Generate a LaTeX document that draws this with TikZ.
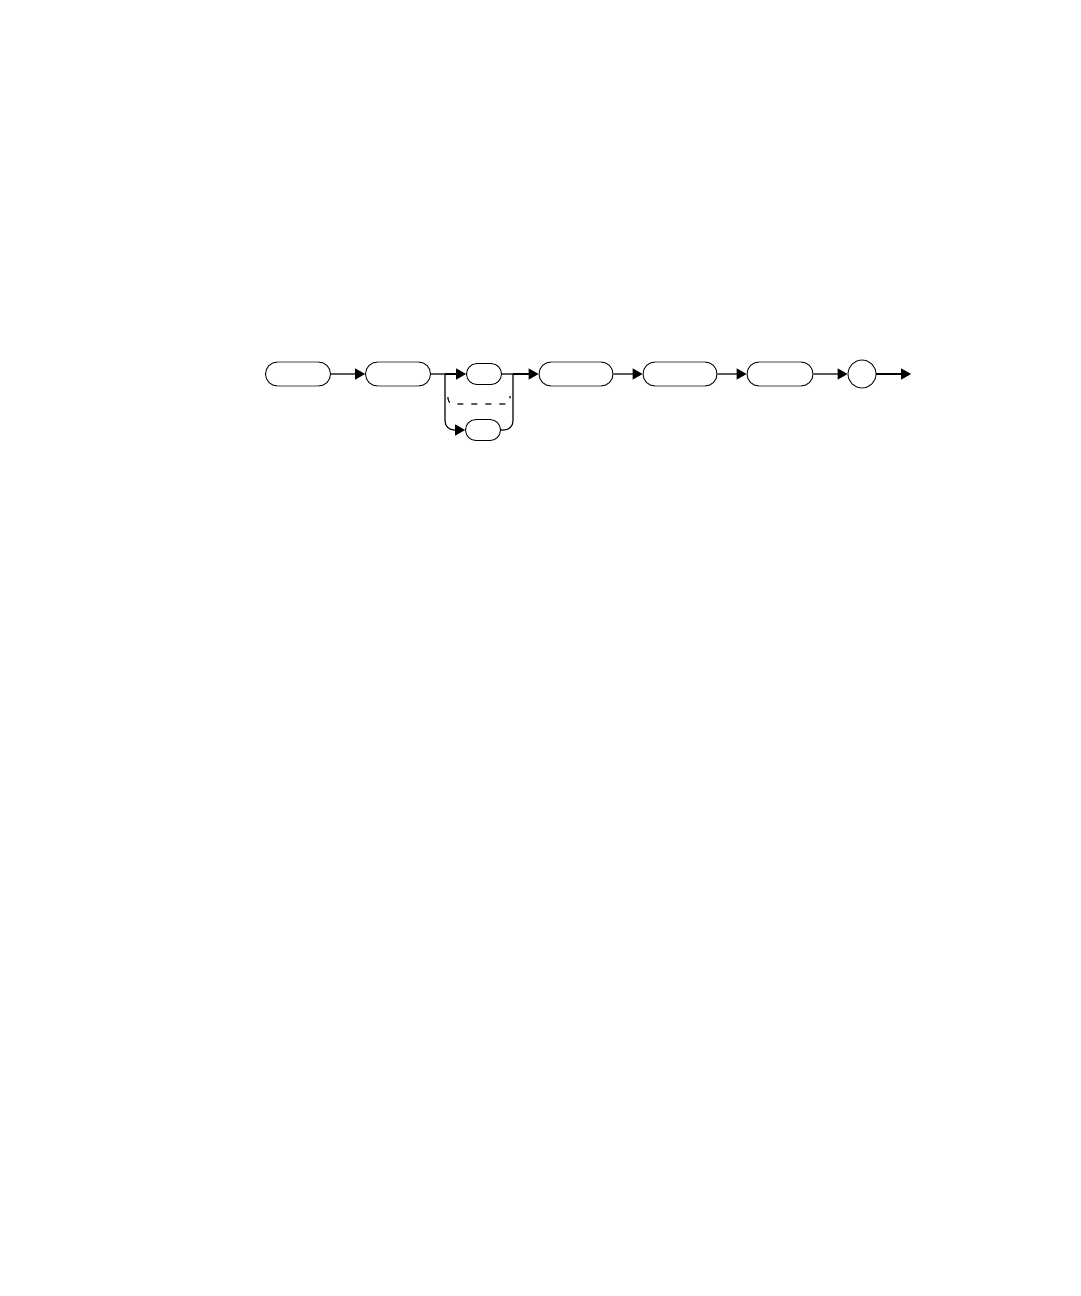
\documentclass[tikz,border=0pt]{standalone}
\usetikzlibrary{shapes.misc,arrows.meta}

\tikzset{
  railbox/.style={draw, rounded rectangle, line width=0.9, minimum height=24, inner sep=0},
  railcirc/.style={draw, circle, line width=0.9, minimum size=28, inner sep=0},
  railarrow/.style={line width=1.1, -{Triangle[length=10,width=11]}},
  railline/.style={line width=1.1}
}

\begin{document}
\begin{tikzpicture}[x=1pt,y=-1pt]
      \useasboundingbox (0,0) rectangle (1080,1296);
      \def\ym{374}
      \def\yl{430}

      % Boxes of the main row
      \node[railbox, minimum width=65] (first) at (298, \ym) {};
      \node[railbox, minimum width=65] (second) at (398, \ym) {};
      \node[railbox, minimum width=35, minimum height=21] (optA) at (484, \ym) {};
      \node[railbox, minimum width=35, minimum height=21] (optB) at (483, \yl) {};
      \node[railbox, minimum width=74] (third) at (576, \ym) {};
      \node[railbox, minimum width=74] (fourth) at (680, \ym) {};
      \node[railbox, minimum width=66] (fifth) at (780, \ym) {};
      \node[railcirc] (term) at (862, \ym) {};

      % Branch points
      \coordinate (split) at (445, \ym);
      \coordinate (join) at (513, \ym);
      \coordinate (out) at (911, \ym);

      % Connectors
      \draw[railarrow] (first) -- (second);
      \draw[railline] (second) -- (split);
      \draw[railarrow] (split) -- (optA);
      \draw[railarrow, rounded corners=9] (split) |- (optB);
      \draw[railline] (optA) -- (join);
      \draw[railline, rounded corners=9] (optB) -| (join);
      \draw[railarrow] (join) -- (third);
      \draw[railarrow] (third) -- (fourth);
      \draw[railarrow] (fourth) -- (fifth);
      \draw[railarrow] (fifth) -- (term);
      \draw[railarrow] (term) -- (out);

      % Dashed alternatives
      \draw[line width=1.1, dash pattern=on 6 off 8, rounded corners=5]
        (448, 397) |- (510, 404) -- (510, 396);
    \end{tikzpicture}
\end{document}
